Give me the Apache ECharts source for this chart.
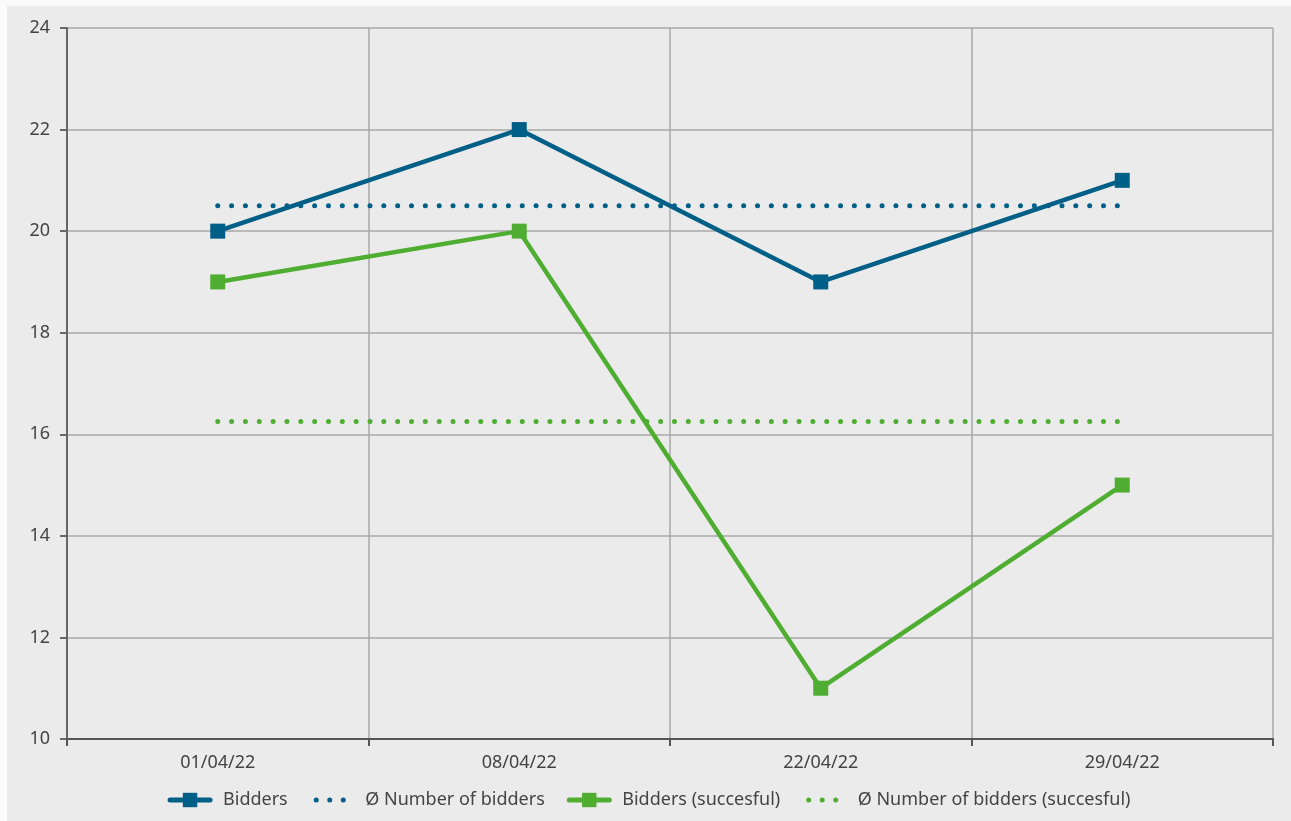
<!DOCTYPE html>
<html><head><meta charset="utf-8">
<script src="https://cdn.jsdelivr.net/npm/echarts@6/dist/echarts.min.js"></script>
<style>
html,body{margin:0;padding:0;background:#fbfbfb;width:1291px;height:821px;overflow:hidden}
#c{position:absolute;left:7px;top:6px;width:1284px;height:815px;background:#ebebeb}
</style></head><body>
<div id="c"></div>
<script>
const categories = ['01/04/22','08/04/22','22/04/22','29/04/22'];
const bidders = [20, 22, 19, 21];
const biddersAvg = [20.5, 20.5, 20.5, 20.5];
const successful = [19, 20, 11, 15];
const successfulAvg = [16.25, 16.25, 16.25, 16.25];
const names = ['Bidders','Ø Number of bidders','Bidders (succesful)','Ø Number of bidders (succesful)'];

const BLUE = '#005f87', GREEN = '#4fae32';
const FONT = 'Noto Sans';
const chart = echarts.init(document.getElementById('c'));
const dotted = (color) => ({color: color, width: 5, type: [0.01, 13.83], cap: 'round'});
const legendDots = {width: 5, type: [0.01, 13.5], cap: 'round', dashOffset: -4};
chart.setOption({
  backgroundColor: '#ebebeb',
  animation: false,
  textStyle: {fontFamily: FONT},
  grid: {left: 60, top: 22, right: 18, bottom: 82, containLabel: false},
  legend: {
    bottom: 7, left: 'center', itemWidth: 40, itemHeight: 18, itemGap: 22,
    textStyle: {fontSize: 18, color: '#444', fontFamily: FONT, padding: [0, 0, 0, 8]},
    data: [
      {name: names[0], lineStyle: {width: 5, cap: 'round'}},
      {name: names[1], itemStyle: {opacity: 0}, lineStyle: legendDots},
      {name: names[2], lineStyle: {width: 5, cap: 'round'}},
      {name: names[3], itemStyle: {opacity: 0}, lineStyle: legendDots}
    ]
  },
  xAxis: {
    type: 'category', data: categories, boundaryGap: true,
    axisLine: {lineStyle: {color: '#555', width: 2}},
    axisTick: {show: true, length: 7, lineStyle: {color: '#555', width: 2}},
    splitLine: {show: true, lineStyle: {color: '#a8a8a8', width: 1.5}},
    axisLabel: {fontSize: 18, color: '#444', margin: 15, fontFamily: FONT}
  },
  yAxis: {
    type: 'value', min: 10, max: 24, interval: 2,
    axisLine: {show: true, lineStyle: {color: '#666', width: 2}},
    axisTick: {show: true, length: 7, lineStyle: {color: '#666', width: 2}},
    splitLine: {show: true, lineStyle: {color: '#a8a8a8', width: 1.5}},
    axisLabel: {fontSize: 18, color: '#444', margin: 17, fontFamily: FONT}
  },
  series: [
    {name: names[0], type: 'line', data: bidders, symbol: 'rect', symbolSize: 15,
     lineStyle: {color: BLUE, width: 4.5}, itemStyle: {color: BLUE}, z: 5},
    {name: names[1], type: 'line', data: biddersAvg, symbol: 'none',
     lineStyle: dotted(BLUE), itemStyle: {color: BLUE}, z: 3},
    {name: names[2], type: 'line', data: successful, symbol: 'rect', symbolSize: 15,
     lineStyle: {color: GREEN, width: 4.5}, itemStyle: {color: GREEN}, z: 4},
    {name: names[3], type: 'line', data: successfulAvg, symbol: 'none',
     lineStyle: dotted(GREEN), itemStyle: {color: GREEN}, z: 3}
  ]
});
</script>
</body></html>
